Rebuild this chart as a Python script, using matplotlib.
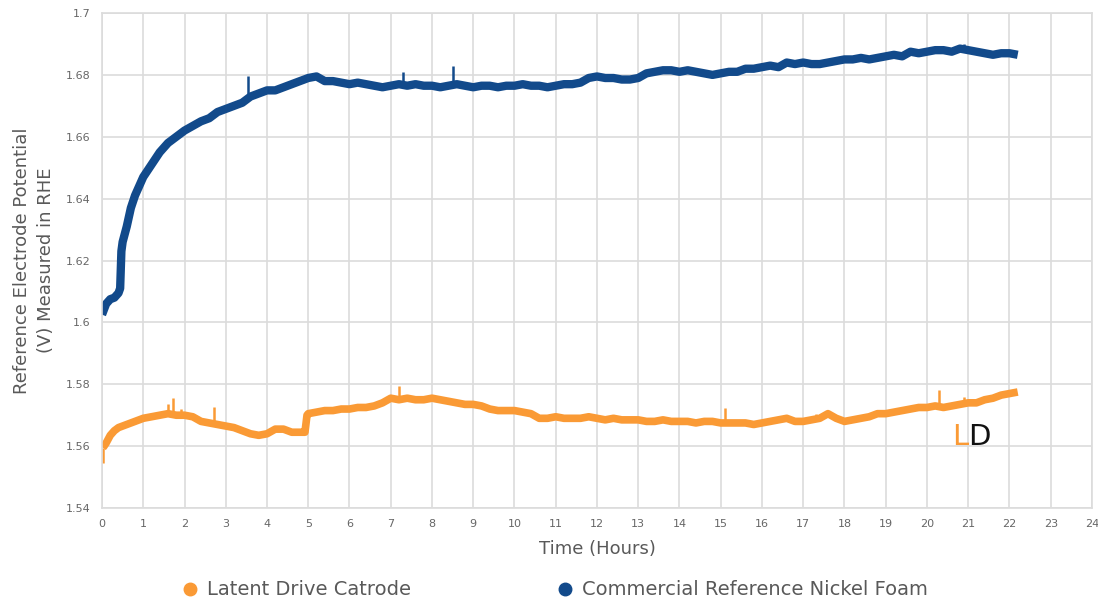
import numpy as np
import matplotlib
matplotlib.use('Agg')
import matplotlib.pyplot as plt
from matplotlib.lines import Line2D

# ---- data (hours, volts vs RHE) ----
nickel_t_start = [0, 0.1, 0.2, 0.3, 0.4, 0.44, 0.47, 0.5, 0.6, 0.7, 0.8, 0.9]
nickel_v_start = [1.6025, 1.606, 1.6075, 1.608, 1.6095, 1.611, 1.623, 1.626,
                  1.631, 1.637, 1.641, 1.644]
nickel_v_main = [
    1.647, 1.651, 1.655, 1.658, 1.660,
    1.662, 1.6635, 1.665, 1.666, 1.668,
    1.669, 1.670, 1.671, 1.673, 1.674,
    1.675, 1.675, 1.676, 1.677, 1.678,
    1.679, 1.6795, 1.678, 1.678, 1.6775,
    1.677, 1.6775, 1.677, 1.6765, 1.676,
    1.6765, 1.677, 1.6765, 1.677, 1.6765,
    1.6765, 1.676, 1.6765, 1.677, 1.6765,
    1.676, 1.6765, 1.6765, 1.676, 1.6765,
    1.6765, 1.677, 1.6765, 1.6765, 1.676,
    1.6765, 1.677, 1.677, 1.6775, 1.679,
    1.6795, 1.679, 1.679, 1.6785, 1.6785,
    1.679, 1.6805, 1.681, 1.6815, 1.6815,
    1.681, 1.6815, 1.681, 1.6805, 1.680,
    1.6805, 1.681, 1.681, 1.682, 1.682,
    1.6825, 1.683, 1.6825, 1.684, 1.6835,
    1.684, 1.6835, 1.6835, 1.684, 1.6845,
    1.685, 1.685, 1.6855, 1.685, 1.6855,
    1.686, 1.6865, 1.686, 1.6875, 1.687,
    1.6875, 1.688, 1.688, 1.6875, 1.6885,
    1.688, 1.6875, 1.687, 1.6865, 1.687,
    1.687, 1.6865,
]
nickel_spike_t = [3.55, 7.3, 8.5, 20.9]
nickel_spike_lo = [1.672, 1.677, 1.677, 1.688]
nickel_spike_hi = [1.6795, 1.681, 1.683, 1.690]

latent_t_start = [0.02, 0.05, 0.1, 0.2, 0.3, 0.4, 0.5, 0.6, 0.7, 0.8, 0.9]
latent_v_start = [1.5595, 1.560, 1.561, 1.5635, 1.565, 1.566, 1.5665, 1.567,
                  1.5675, 1.568, 1.5685]
latent_v_early = [
    1.569, 1.5695, 1.570, 1.5705, 1.570,
    1.570, 1.5695, 1.568, 1.5675, 1.567,
    1.5665, 1.566, 1.565, 1.564, 1.5635,
    1.564, 1.5655, 1.5655, 1.5645, 1.5645,
]
latent_t_jump = [4.92, 4.97]
latent_v_jump = [1.5645, 1.570]
latent_v_late = [
    1.5705, 1.571, 1.5715, 1.5715, 1.572,
    1.572, 1.5725, 1.5725, 1.573, 1.574,
    1.5755, 1.575, 1.5755, 1.575, 1.575,
    1.5755, 1.575, 1.5745, 1.574, 1.5735,
    1.5735, 1.573, 1.572, 1.5715, 1.5715,
    1.5715, 1.571, 1.5705, 1.569, 1.569,
    1.5695, 1.569, 1.569, 1.569, 1.5695,
    1.569, 1.5685, 1.569, 1.5685, 1.5685,
    1.5685, 1.568, 1.568, 1.5685, 1.568,
    1.568, 1.568, 1.5675, 1.568, 1.568,
    1.5675, 1.5675, 1.5675, 1.5675, 1.567,
    1.5675, 1.568, 1.5685, 1.569, 1.568,
    1.568, 1.5685, 1.569, 1.5705, 1.569,
    1.568, 1.5685, 1.569, 1.5695, 1.5705,
    1.5705, 1.571, 1.5715, 1.572, 1.5725,
    1.5725, 1.573, 1.5725, 1.573, 1.5735,
    1.574, 1.574, 1.575, 1.5755, 1.5765,
    1.577, 1.5775,
]
latent_spike_t = [0.03, 1.6, 1.72, 1.92, 2.72, 7.2, 15.1, 17.3, 20.3, 20.9]
latent_spike_lo = [1.5545, 1.570, 1.570, 1.570, 1.568, 1.575, 1.5675, 1.569, 1.573, 1.5735]
latent_spike_hi = [1.5595, 1.5735, 1.5755, 1.572, 1.5726, 1.5795, 1.5722, 1.5705, 1.578, 1.5758]

x_ticks = list(range(0, 25))
y_ticks = [1.54, 1.56, 1.58, 1.6, 1.62, 1.64, 1.66, 1.68, 1.7]
y_tick_labels = ['1.54', '1.56', '1.58', '1.6', '1.62', '1.64', '1.66', '1.68', '1.7']

nickel_t = np.concatenate([nickel_t_start, np.linspace(1.0, 22.2, 107)])
nickel_v = np.concatenate([nickel_v_start, nickel_v_main])
latent_t = np.concatenate([latent_t_start, np.linspace(1.0, 4.8, 20),
                           latent_t_jump, np.linspace(5.0, 22.2, 87)])
latent_v = np.concatenate([latent_v_start, latent_v_early, latent_v_jump, latent_v_late])

# ---- plot ----
plt.rcParams['font.family'] = ['DejaVu Sans']
orange = '#fa9a35'
blue = '#124a8b'
grid_c = '#dcdcdc'
text_c = '#595959'

fig = plt.figure(figsize=(10.98, 6.03), dpi=100)
ax = fig.add_axes([0.0929, 0.1575, 0.9016, 0.8209])

ax.plot(latent_t, latent_v, color=orange, lw=5.5, solid_joinstyle='round',
        solid_capstyle='butt')
ax.vlines(latent_spike_t, latent_spike_lo, latent_spike_hi, color=orange, lw=1.8)
ax.plot(nickel_t, nickel_v, color=blue, lw=6, solid_joinstyle='round',
        solid_capstyle='butt')
ax.vlines(nickel_spike_t, nickel_spike_lo, nickel_spike_hi, color=blue, lw=1.8)

ax.set_xlim(0, 24)
ax.set_ylim(1.54, 1.7)
ax.set_xticks(x_ticks)
ax.set_yticks(y_ticks)
ax.set_yticklabels(y_tick_labels)
ax.tick_params(length=0, labelsize=8, colors='#666666', pad=8)
ax.grid(True, color=grid_c, lw=1.2)
ax.set_axisbelow(True)
for s in ax.spines.values():
    s.set_color(grid_c)
    s.set_linewidth(1.2)

ax.set_xlabel('Time (Hours)', fontsize=13, color=text_c, labelpad=8)
ax.set_ylabel('Reference Electrode Potential\n(V) Measured in RHE', fontsize=13,
              color=text_c, labelpad=8, linespacing=1.4)

# LD mark
ax.text(20.6, 1.5604, 'L', color=orange, fontsize=21, va='baseline')
ax.text(21.0, 1.5604, 'D', color='#111111', fontsize=21, va='baseline')

# legend: one entry each, placed like the original
leg_items = [
    (orange, 'Latent Drive Catrode', 180 / 1098),
    (blue, 'Commercial Reference Nickel Foam', 555 / 1098),
]
for col, lab, x0 in leg_items:
    h = Line2D([], [], ls='none', marker='o', ms=9, color=col, label=lab)
    leg = fig.legend(handles=[h], loc='center left', bbox_to_anchor=(x0, 0.0216),
                     frameon=False, fontsize=14, borderpad=0, borderaxespad=0,
                     handlelength=1.0, handletextpad=0.4)
    for t in leg.get_texts():
        t.set_color(text_c)

fig.savefig('out.png', dpi=100)
